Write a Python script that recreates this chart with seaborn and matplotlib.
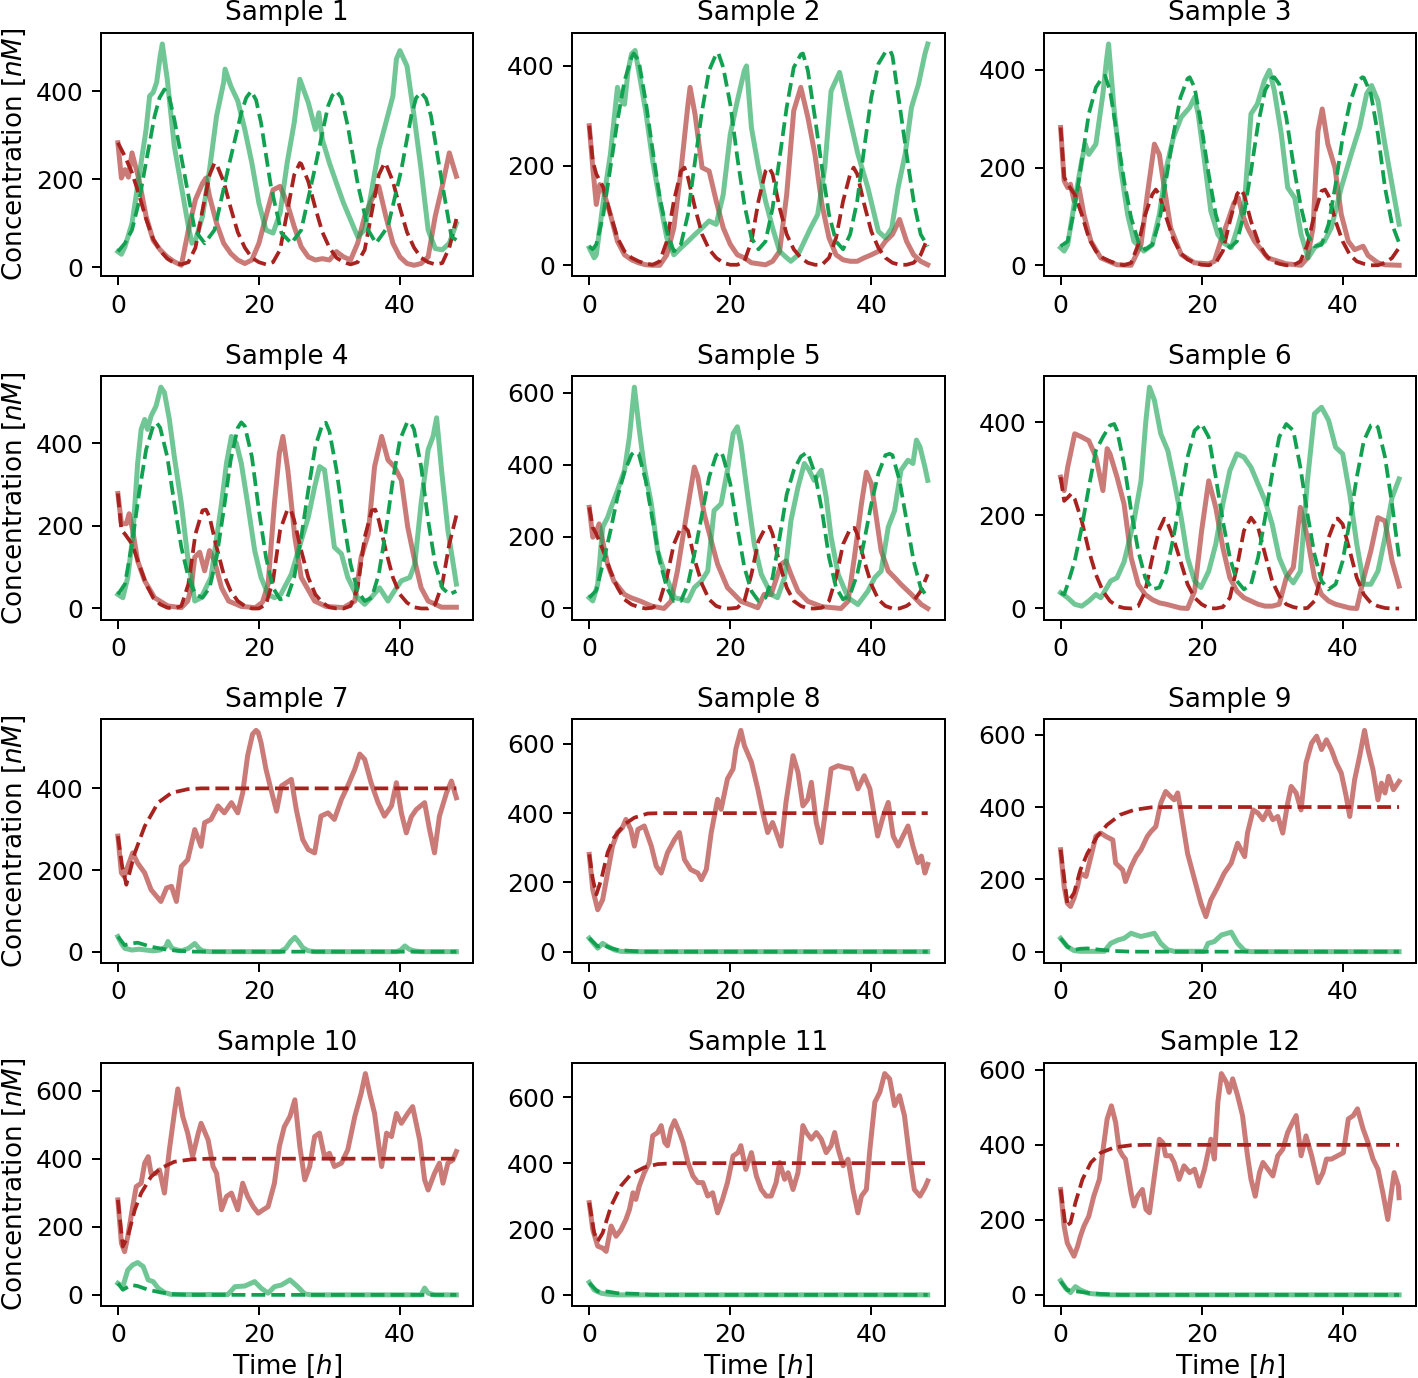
import matplotlib
matplotlib.use("Agg")
import matplotlib.pyplot as plt
import seaborn as sns
import pandas as pd

# ---------------- data: (time [h], concentration [nM]) ----------------
# Sample 1
s1_red = [(0,283),(0.5,203),(1,222),(1.5,205),(2,260),(3,199),(4,116),(5,62),(6,40),(7,24),(8,13),(9,5),(10,85),(11,154),(12,191),(12.5,203),(13,161),(14,100),(15,55),(16,32),(17,17),(18,9),(19,17),(20,55),(21,116),(22,176),(23,184),(24,146),(25,93),(26,47),(27,24),(28,17),(29,20),(30,17),(31,36),(32,24),(33,17),(34,55),(35,116),(36,154),(37,184),(38,116),(39,55),(40,24),(41,9),(42,5),(43,9),(44,24),(45,116),(46,184),(47,260),(48,207)]
s1_green = [(0,36),(0.5,30),(1,47),(2,100),(3,207),(4,313),(4.5,389),(5,397),(5.5,420),(6,480),(6.3,507),(7,427),(7.5,351),(8,275),(9,184),(10,93),(10.5,55),(11,62),(12,116),(13,222),(14,344),(15,420),(15.2,450),(16,412),(17,378),(18,313),(19,237),(20,146),(21,85),(22,78),(23,123),(24,237),(25,328),(25.8,427),(27,374),(28,313),(28.5,351),(29,290),(30,237),(31,191),(32,146),(33,108),(34,70),(35,85),(36,176),(37,268),(38,328),(39,389),(39.5,473),(40,492),(41,457),(42,344),(43,222),(44,85),(45,43),(46,40),(47,55),(48,100)]
d1_red = [(0,283),(1,252),(2,215),(3,165),(4,110),(5,65),(6,38),(7,20),(8,10),(9,7),(10,12),(11,45),(12,130),(13,210),(13.7,237),(14,234),(15,195),(16,135),(17,80),(18,45),(19,22),(20,12),(21,7),(22,12),(23,40),(24,125),(25,210),(25.8,237),(26,235),(27,195),(28,135),(29,80),(30,45),(31,22),(32,12),(33,7),(34,12),(35,40),(36,125),(37,210),(37.8,237),(38,235),(39,195),(40,135),(41,80),(42,45),(43,22),(44,12),(45,7),(46,10),(47,45),(48,110)]
d1_green = [(0,36),(1,55),(2,85),(3,150),(3.8,222),(5.2,343),(5.9,385),(6.6,404),(7.3,385),(8,336),(9.5,207),(10.9,85),(12.3,55),(13.7,85),(15.6,222),(17.5,351),(18.2,385),(18.9,400),(19.6,380),(20.3,328),(21.7,184),(23.2,78),(24.6,55),(26,85),(27.9,222),(29.8,366),(30.4,390),(31,400),(31.7,385),(32.6,321),(34,191),(35.5,85),(36.6,55),(38.3,93),(40.2,222),(41.6,344),(42.3,385),(43,397),(43.7,383),(44.4,344),(45.9,199),(47.3,70),(48,62)]

# Sample 2
s2_red = [(0,280),(0.5,196),(1,122),(1.5,162),(2,149),(3,102),(4,48),(5,21),(6,11),(7,5),(8,1),(9,0),(10,0),(11,21),(12,75),(13,189),(14,323),(14.3,357),(15,303),(16,196),(17,189),(18,129),(19,75),(20,42),(21,21),(22,15),(23,5),(24,3),(25,1),(26,8),(27,28),(28,142),(29,310),(30,357),(31,297),(32,223),(33,122),(34,55),(35,21),(36,11),(37,8),(38,8),(39,15),(40,21),(41,28),(42,48),(43,62),(44,92),(45,48),(46,21),(47,8),(48,1)]
s2_green = [(0,35),(0.7,15),(1,21),(2,129),(3,223),(4,357),(4.5,330),(5,323),(5.5,390),(6,424),(6.5,431),(7,391),(8,310),(9,209),(10,129),(11,55),(12,21),(13,35),(14,48),(15,62),(16,75),(17,89),(18,82),(19,142),(20,263),(21,330),(22,391),(22.3,400),(23,276),(24,196),(25,129),(26,75),(27,28),(28,15),(28.6,8),(29.6,21),(30.5,48),(31.4,75),(32.4,102),(33.4,196),(34.3,350),(35.5,387),(36.7,310),(38.1,223),(39.5,156),(41,68),(42,55),(42.9,75),(43.8,156),(44.8,223),(45.7,317),(46.7,364),(47.6,424),(48,444)]
d2_red = [(0,280),(0.5,209),(1,183),(2,156),(3,102),(4,55),(5,28),(6,15),(7,8),(8,3),(9,1),(10,8),(11,48),(12,129),(13,189),(13.5,196),(14,176),(15,115),(16,62),(17,32),(18,15),(19,5),(20,1),(21,1),(22,8),(23,48),(24,129),(25,189),(25.5,196),(26,183),(27,115),(28,62),(29,32),(30,15),(31,5),(32,1),(33,1),(34,15),(35,55),(36,129),(37,183),(37.5,196),(38,183),(39,122),(40,68),(41,35),(42,15),(43,5),(44,1),(45,1),(46,5),(47,21),(48,55)]
d2_green = [(0,38),(0.5,32),(1,42),(2,102),(3,196),(4,290),(5,370),(6,417),(6.3,425),(7,411),(8,330),(9,230),(10,136),(11,68),(12,28),(13,42),(14,102),(15,209),(16,310),(17,391),(18,424),(18.3,426),(19,397),(20,323),(21,216),(22,122),(23,55),(24,32),(25,48),(26,115),(27,216),(28,317),(29,397),(30,423),(30.3,425),(31,391),(32,297),(33,196),(34,102),(35,48),(36,32),(37,62),(38,129),(39,236),(40,337),(41,404),(42,428),(42.7,430),(43,420),(44,323),(45,223),(46,129),(47,62),(48,38)]

# Sample 3
s3_red = [(0,282),(0.5,173),(1,159),(1.4,166),(1.9,132),(2.6,159),(3.3,104),(4.3,49),(5.7,15),(8,1),(10,0),(11.4,42),(12.3,145),(13.3,248),(14,227),(14.7,159),(15.6,77),(17.1,22),(19,5),(21,3),(21.8,8),(22.7,49),(23.7,90),(24.6,128),(25.2,138),(25.8,104),(26.5,77),(27.5,49),(29.4,15),(32,3),(34.1,0),(35,15),(35.8,77),(36.5,275),(37.1,320),(37.9,248),(38.9,200),(39.8,104),(40.8,49),(41.7,32),(42.9,39),(43.6,20),(45,5),(46,1),(48,0)]
s3_green = [(0,36),(0.5,29),(1,42),(2,132),(3,214),(3.5,248),(4,227),(5,248),(6,351),(6.5,419),(6.8,453),(7.6,316),(8.5,200),(9.5,104),(10.4,49),(11.8,29),(13,42),(14,104),(15,200),(16,262),(17.1,303),(18.3,323),(19,344),(19.5,310),(20.4,214),(21.3,111),(22.3,63),(23.2,45),(24.2,36),(25.1,77),(26.1,132),(27,310),(27.9,330),(28.9,378),(29.6,399),(30.3,358),(31.3,268),(32.2,159),(33.2,138),(34.1,63),(35.1,15),(36,36),(37.4,49),(38.4,77),(39.8,159),(41.2,227),(42.4,282),(43.4,351),(44.1,368),(45,337),(45.9,255),(46.9,173),(48,84)]
d3_red = [(0,282),(0.5,180),(1,166),(2,145),(3,104),(4,56),(5,29),(6,15),(7,8),(8,3),(9,0),(10,5),(11,42),(12,104),(13,145),(13.5,155),(14,145),(15,97),(16,53),(17,25),(18,12),(19,5),(20,1),(21,0),(22,5),(23,29),(24,90),(25,145),(25.5,155),(26,145),(27,90),(28,49),(29,22),(30,8),(31,3),(32,0),(33,0),(34,8),(35,42),(36,104),(37,152),(37.5,155),(38,142),(39,90),(40,49),(41,22),(42,8),(43,3),(44,0),(45,0),(46,5),(47,15),(48,36)]
d3_green = [(0,39),(1,49),(2,118),(3,214),(4,310),(5,364),(6,386),(6.3,388),(7,358),(8,268),(9,173),(10,97),(11,49),(12,32),(13,42),(14,90),(15,179),(16,268),(17,344),(18,382),(18.3,385),(19,364),(20,282),(21,186),(22,104),(23,56),(24,36),(25,49),(26,104),(27,193),(28,289),(29,358),(30,384),(30.3,385),(31,371),(32,303),(33,207),(34,125),(35,63),(36,39),(37,42),(38,84),(39,166),(40,262),(41,331),(42,375),(42.8,385),(43,384),(44,351),(45,268),(46,159),(47,84),(48,46)]

# Sample 4
s4_red = [(0,278),(0.5,205),(1.2,205),(1.6,229),(2.1,189),(2.8,115),(3.8,67),(5.2,26),(7.1,6),(9,2),(9.9,18),(10.4,50),(10.9,124),(11.6,136),(12.3,91),(13,140),(13.7,115),(14.7,50),(15.7,18),(17.5,5),(19.5,2),(20.5,15),(21.3,59),(22.2,254),(22.9,376),(23.4,416),(24.1,335),(25.1,172),(26,75),(27.9,18),(29.5,5),(32,2),(33.6,18),(34.5,124),(35.5,180),(36.4,343),(37.4,416),(38.3,359),(39.2,343),(40.2,310),(41.1,197),(42.1,115),(43,50),(44,18),(45.9,3),(48,3)]
s4_green = [(0,34),(0.7,26),(1.4,75),(2.1,172),(2.8,351),(3.3,433),(3.8,457),(4.2,433),(4.7,465),(5.4,489),(6.1,535),(6.6,522),(7.3,457),(8,367),(9,254),(9.9,124),(10.9,18),(11.8,26),(13.2,75),(14.7,254),(15.4,351),(16.1,416),(16.8,400),(17.5,351),(18.4,254),(19.4,140),(20.3,75),(21.3,34),(22.2,26),(23.1,34),(24.6,83),(26,164),(27,221),(27.9,294),(28.6,343),(29.3,335),(29.8,270),(30.7,148),(31.7,132),(32.6,75),(34,26),(35,10),(35.9,26),(37.1,50),(38.3,18),(39.2,42),(40.2,67),(41.4,75),(42.1,107),(43,254),(44,384),(44.7,416),(45.2,461),(45.9,335),(46.8,189),(48,59)]
d4_red = [(0,278),(0.5,189),(1,180),(2,156),(3,107),(4,59),(5,26),(6,10),(7,2),(8,0),(9,6),(10,59),(11,180),(12,237),(12.5,239),(13,221),(14,148),(15,83),(16,42),(17,18),(18,6),(19,0),(20,0),(21,10),(22,67),(23,189),(24,237),(24.5,239),(25,213),(26,140),(27,75),(28,34),(29,14),(30,3),(31,0),(32,0),(33,6),(34,50),(35,172),(36,237),(36.5,239),(37,213),(38,140),(39,75),(40,34),(41,14),(42,3),(43,0),(44,0),(45,10),(46,59),(47,156),(48,225)]
d4_green = [(0,34),(1,59),(2,156),(3,278),(4,384),(5,441),(5.5,449),(6,437),(7,367),(8,254),(9,148),(10,75),(11,34),(12,26),(13,50),(14,124),(15,237),(16,359),(17,437),(17.5,450),(18,441),(19,367),(20,237),(21,124),(22,50),(23,22),(24,26),(25,75),(26,172),(27,286),(28,392),(29,445),(29.5,449),(30,428),(31,335),(32,213),(33,107),(34,42),(35,18),(36,26),(37,83),(38,189),(39,311),(40,408),(41,449),(41.5,450),(42,433),(43,343),(44,213),(45,107),(46,50),(47,34),(48,42)]

# Sample 5
s5_red = [(0,281),(0.5,198),(0.9,207),(1.4,235),(1.9,188),(2.6,123),(3.5,76),(5,39),(5.9,30),(7.3,20),(8.8,7),(10.6,0),(11.6,20),(12.5,104),(13.5,226),(14.2,309),(14.9,393),(15.4,365),(16.3,263),(17.3,188),(18.2,123),(19.6,58),(21.5,20),(23.9,2),(24.8,39),(25.8,39),(27.2,123),(27.9,132),(28.6,95),(29.6,48),(31,20),(33,5),(35.7,0),(36.7,20),(37.6,142),(38.6,291),(39.3,379),(40,347),(40.7,254),(41.4,160),(42.4,104),(43.3,86),(44.2,67),(45.7,39),(47.1,11),(48,0)]
s5_green = [(0,30),(0.5,21),(1.2,67),(1.9,226),(2.6,253),(3.1,281),(4,328),(5,384),(5.7,477),(6.4,615),(6.6,580),(7.1,496),(7.8,393),(8.8,291),(9.7,160),(10.6,104),(12.1,30),(14,21),(14.9,58),(15.9,76),(16.8,104),(17.7,272),(18.7,291),(19.6,384),(20.4,486),(21,505),(21.5,459),(22.5,309),(23.4,179),(24.4,95),(25.8,39),(26.7,30),(27.7,86),(28.6,244),(29.6,337),(30.5,403),(31.2,384),(31.9,356),(32.9,384),(33.6,309),(34.3,198),(35.3,95),(36.7,30),(38.1,11),(39.5,48),(40.5,86),(41.4,104),(42.4,226),(43.3,272),(44.2,384),(45.2,412),(45.9,403),(46.4,468),(46.9,449),(47.6,393),(48,356)]
d5_red = [(0,281),(0.5,225),(1,207),(2,160),(3,104),(4,58),(5,25),(6,11),(7,4),(8,0),(9,2),(10,21),(11,86),(12,179),(13,225),(13.5,227),(14,216),(15,132),(16,67),(17,25),(18,7),(19,0),(20,0),(21,2),(22,21),(23,95),(24,188),(25,225),(25.6,227),(26,207),(27,123),(28,58),(29,21),(30,7),(31,0),(32,0),(33,2),(34,21),(35,86),(36,179),(37,221),(37.6,224),(38,207),(39,132),(40,67),(41,25),(42,7),(43,0),(44,0),(45,7),(46,21),(47,48),(48,95)]
d5_green = [(0,30),(1,50),(2,130),(3,215),(4,309),(5,380),(6,428),(6.4,435),(7,431),(8,356),(9,244),(10,132),(11,58),(12,21),(13,21),(14,67),(15,160),(16,263),(17,365),(18,426),(18.7,435),(19,421),(20,347),(21,226),(22,114),(23,48),(24,21),(25,30),(26,86),(27,198),(28,317),(29,384),(30,422),(30.8,433),(31,431),(32,375),(33,272),(34,142),(35,58),(36,25),(37,39),(38,95),(39,188),(40,291),(41,375),(42,426),(42.6,430),(43,426),(44,356),(45,244),(46,132),(47,58),(48,30)]

# Sample 6
s6_red = [(0,282),(0.5,253),(1,303),(2,375),(3,368),(4,360),(5,325),(6,253),(6.6,343),(7,332),(8,282),(9,224),(10,109),(11,52),(12,30),(13,19),(14,12),(15,9),(16,5),(17,1),(18,0),(19,37),(20,167),(21,274),(22,217),(23,131),(24,66),(25,37),(26,23),(27,16),(28,9),(29,5),(30,5),(31,9),(32,66),(33,88),(34,217),(35,152),(36,66),(37,30),(38,16),(39,9),(40,5),(41,1),(42,0),(43,66),(44,124),(45,195),(46,188),(47,102),(48,48)]
s6_green = [(0,34),(1,23),(2,9),(3,5),(4,16),(5,30),(5.7,23),(7.1,59),(8,66),(9,100),(10.4,188),(11.4,274),(12.1,404),(12.6,475),(13.3,447),(14.2,375),(15.2,339),(16.1,274),(17.1,195),(18,109),(19,59),(19.9,45),(21,80),(22,138),(23,224),(24,296),(25,332),(26,325),(27,303),(28,267),(29,231),(30,181),(31,109),(32,73),(33,55),(34,80),(35,274),(36,418),(37,432),(38,404),(39,346),(40,332),(41,246),(42,138),(43,52),(44,52),(45,80),(46,152),(47,238),(48,278)]
d6_red = [(0,282),(0.5,231),(1,238),(1.5,246),(2,235),(3,188),(4,124),(5,73),(6,37),(7,16),(8,5),(9,1),(10,0),(11,5),(12,37),(13,109),(14,170),(14.7,193),(15,190),(16,150),(17,102),(18,52),(19,23),(20,9),(21,1),(22,0),(23,3),(24,23),(25,88),(26,167),(27,195),(28,174),(29,116),(30,59),(31,27),(32,9),(33,3),(34,0),(35,1),(36,16),(37,73),(38,152),(39,192),(39.3,193),(40,181),(41,124),(42,66),(43,30),(44,12),(45,5),(46,1),(47,0),(48,0)]
d6_green = [(0,34),(0.5,30),(1,52),(2,102),(3,174),(4,260),(5,339),(6,368),(7,393),(7.6,396),(8,382),(9,310),(10,210),(11,124),(12,66),(13,41),(14,45),(15,80),(16,152),(17,238),(18,325),(19,382),(20,396),(21,368),(22,282),(23,188),(24,109),(25,59),(26,41),(27,52),(28,109),(29,195),(30,289),(31,368),(32,396),(33,382),(34,303),(35,203),(36,116),(37,59),(38,41),(39,52),(40,102),(41,188),(42,282),(43,360),(44,393),(44.5,396),(45,389),(46,325),(47,224),(48,109)]

# Sample 7
s7_red = [(0,283),(0.5,193),(0.9,184),(1.4,209),(2.1,242),(2.8,217),(3.8,193),(4.7,152),(5.7,131),(6.1,123),(6.9,156),(7.6,160),(8.3,123),(9.0,209),(9.9,225),(10.9,299),(11.8,258),(12.3,316),(13.2,324),(14.2,357),(15.1,340),(16.1,365),(17.0,340),(17.7,389),(18.4,480),(19.1,533),(19.6,542),(19.9,537),(20.3,512),(21.0,447),(21.7,398),(22.5,344),(23.2,406),(23.9,414),(24.6,422),(25.3,348),(26.2,275),(27.0,250),(27.9,242),(28.8,332),(29.8,340),(30.7,324),(31.7,373),(32.6,406),(33.6,447),(34.3,484),(35.0,471),(35.9,414),(36.9,365),(37.8,332),(38.8,357),(39.5,414),(40.2,340),(40.9,291),(41.6,330),(42.3,348),(43.5,365),(44.2,299),(44.9,242),(45.6,332),(46.6,389),(47.3,418),(48,377)]
s7_green = [(0,37),(0.5,20),(1,8),(2,4),(3,6),(4,4),(5,2),(6,4),(6.8,12),(7.1,25),(7.6,10),(8,6),(9,2),(10,8),(10.9,20),(11.5,8),(12,2),(13,0),(23,0),(23.8,8),(24.5,25),(25.1,35),(25.6,25),(26.2,10),(27,2),(28,0),(39.5,0),(40.1,4),(40.7,14),(41.3,6),(42,2),(43,0),(48,0)]
d7_red = [(0,283),(0.6,210),(1.2,164),(2.4,242),(3.8,307),(5.7,365),(7.6,389),(9.9,398),(11.8,400),(48,400)]
d7_green = [(0,37),(0.95,16),(1.9,20),(2.8,22),(4.7,12),(6.6,6),(8.5,2),(10.9,0),(48,0)]

# Sample 8
s8_red = [(0,281),(0.5,179),(1.2,121),(1.9,150),(2.6,227),(3.3,305),(4.0,344),(4.7,358),(5.2,382),(5.9,353),(6.4,305),(6.9,353),(7.8,363),(8.8,305),(9.5,247),(10.2,227),(11.1,286),(12.1,324),(12.8,344),(13.5,266),(14.4,237),(15.4,227),(15.9,208),(16.6,237),(17.3,344),(18.2,440),(18.7,411),(19.6,499),(20.4,528),(20.8,586),(21.5,639),(22.0,595),(23.0,547),(23.9,470),(24.6,402),(25.3,344),(26.0,373),(26.7,334),(27.2,305),(27.9,431),(28.9,566),(29.6,518),(30.3,421),(31.0,440),(31.5,489),(32.2,373),(32.9,315),(33.6,421),(34.3,528),(35.3,537),(36.2,532),(37.2,528),(38.1,470),(39.0,508),(39.8,470),(40.5,382),(40.9,334),(41.7,392),(42.4,431),(43.1,334),(43.8,305),(44.5,334),(45.2,363),(45.9,305),(46.6,257),(47.1,276),(47.6,227),(48,252)]
s8_green = [(0,39),(1.2,10),(1.9,24),(2.6,15),(3.6,5),(4.5,1),(6,0),(48,0)]
d8_red = [(0,281),(0.5,210),(1,165),(1.7,208),(2.6,286),(3.5,329),(5,368),(6.4,387),(8.3,399),(10,400),(48,400)]
d8_green = [(0,39),(1.2,15),(2.1,19),(3.1,10),(4,5),(6,2),(8,0),(48,0)]

# Sample 9
s9_red = [(0,282),(0.5,180),(0.95,134),(1.4,125),(1.9,148),(2.4,180),(2.8,217),(3.6,208),(4.3,263),(5.0,319),(5.7,328),(6.4,319),(7.4,309),(7.8,245),(8.8,226),(9.2,194),(10.0,235),(10.7,263),(11.4,282),(12.3,319),(12.8,332),(13.5,346),(14.2,411),(14.9,443),(15.6,429),(16.1,420),(16.6,439),(17.1,383),(18.0,272),(19.0,199),(19.9,134),(20.6,97),(21.3,143),(22.3,180),(23.2,217),(24.2,245),(25.1,300),(26.1,263),(26.5,328),(27.3,392),(28.0,383),(28.7,365),(29.4,392),(30.1,365),(30.8,374),(31.5,328),(32.2,411),(32.7,457),(33.4,439),(34.1,392),(34.8,522),(35.6,577),(36.3,596),(37.0,559),(37.7,586),(38.4,559),(39.1,522),(39.8,494),(40.5,429),(41.0,374),(41.7,476),(42.4,540),(43.1,612),(43.6,559),(44.3,503),(45.0,420),(45.5,466),(46.0,439),(46.5,485),(47.2,448),(48,471)]
s9_green = [(0,37),(0.95,14),(1.9,3),(2.8,1),(6.2,1),(7.1,23),(8.1,32),(9.0,37),(10.0,51),(10.7,46),(11.4,42),(12.3,46),(13.3,51),(14.2,23),(15.2,5),(16.1,1),(20.4,1),(20.9,23),(21.8,28),(22.8,46),(24.2,54),(25.1,23),(26.1,3),(27,0),(48,0)]
d9_red = [(0,282),(0.95,134),(1.9,162),(2.8,226),(3.8,272),(5.2,319),(6.6,351),(8.5,379),(10.4,392),(12.8,399),(15,400),(48,400)]
d9_green = [(0,37),(0.95,14),(1.9,5),(2.8,8),(3.8,9),(5.7,5),(7.6,2),(10,0),(48,0)]

# Sample 10
s10_red = [(0,279),(0.5,152),(0.95,127),(1.4,171),(2.1,259),(2.6,318),(3.3,328),(3.8,387),(4.3,406),(4.7,357),(5.4,357),(5.9,367),(6.6,299),(7.3,426),(8.0,533),(8.5,605),(9.2,524),(9.9,475),(10.6,406),(11.4,475),(11.8,504),(12.8,455),(13.5,377),(14.0,357),(14.7,250),(15.4,289),(16.1,299),(17.0,250),(17.7,328),(18.4,289),(19.2,259),(19.9,240),(20.6,250),(21.3,259),(22.2,328),(22.9,436),(23.6,494),(24.4,524),(25.1,573),(25.8,436),(26.5,338),(27.2,377),(27.9,465),(28.6,475),(29.3,406),(30.0,416),(30.7,377),(31.7,387),(32.6,426),(33.6,524),(34.5,592),(35.1,650),(35.7,592),(36.4,533),(37.4,377),(38.1,475),(38.8,465),(39.5,533),(40.2,504),(41.1,533),(41.8,553),(42.8,455),(43.5,338),(44.0,308),(44.9,357),(45.6,387),(46.1,328),(46.8,387),(47.5,396),(48,421)]
s10_green = [(0,34),(0.7,24),(1.4,73),(2.1,88),(2.8,95),(3.6,83),(4.3,44),(5.0,39),(5.7,20),(6.6,7),(7.6,1),(15.6,1),(16.6,24),(18.0,26),(19.4,39),(20.3,20),(21.3,5),(22.2,24),(23.2,29),(24.4,44),(25.5,24),(26.5,3),(27.4,0),(43.0,0),(43.5,20),(44.0,5),(44.9,0),(48,0)]
d10_red = [(0,279),(0.7,142),(1.4,171),(2.4,250),(3.3,299),(4.7,347),(6.1,372),(8,391),(10.4,398),(13,400),(48,400)]
d10_green = [(0,34),(0.7,15),(1.9,29),(2.8,26),(4.3,15),(6.1,7),(8,2),(10,0),(48,0)]

# Sample 11
s11_red = [(0,280),(0.5,198),(1.2,148),(1.9,142),(2.4,132),(3.1,209),(3.8,178),(4.5,198),(5.2,229),(5.7,259),(6.2,310),(6.6,290),(7.1,331),(7.8,371),(8.5,402),(9.0,483),(9.7,493),(10.2,514),(10.7,463),(11.1,453),(11.6,504),(12.1,529),(12.8,493),(13.3,463),(14.0,402),(14.7,361),(15.4,341),(16.1,341),(16.8,300),(17.5,310),(18.2,249),(18.9,290),(19.6,341),(20.4,422),(21.1,432),(21.5,453),(22.2,381),(23.0,432),(23.7,361),(24.4,320),(25.1,300),(25.8,300),(26.5,341),(27.0,402),(27.7,351),(28.2,371),(28.9,320),(29.6,371),(30.3,514),(30.8,493),(31.5,473),(32.2,493),(32.9,473),(33.6,432),(34.3,453),(34.8,493),(35.3,442),(36.0,392),(36.7,412),(37.4,320),(38.1,249),(38.6,300),(39.3,320),(39.8,442),(40.5,585),(41.2,615),(41.9,672),(42.6,656),(43.3,575),(44.0,605),(44.7,544),(45.4,422),(46.1,320),(46.9,300),(47.6,326),(48,346)]
s11_green = [(0,38),(0.7,15),(1.7,5),(2.6,2),(4,0),(48,0)]
d11_red = [(0,280),(0.7,188),(1.2,163),(1.9,188),(3.1,270),(4.5,331),(5.9,366),(7.8,387),(9.7,397),(12.1,400),(48,400)]
d11_green = [(0,36),(1.2,10),(2.6,10),(4,5),(6.9,3),(8.8,0),(48,0)]

# Sample 12
s12_red = [(0,281),(0.5,183),(0.95,138),(1.4,121),(1.9,103),(2.4,129),(2.8,156),(3.3,183),(4.0,210),(4.7,263),(5.5,308),(5.9,371),(6.6,469),(7.2,504),(7.8,460),(8.3,388),(8.8,371),(9.2,362),(10.0,272),(10.4,237),(10.9,263),(11.6,281),(12.1,228),(12.6,219),(13.3,317),(14.0,415),(14.5,406),(14.9,371),(15.6,371),(16.1,353),(16.8,308),(17.5,344),(18.3,326),(19.0,335),(19.7,290),(20.4,335),(20.9,379),(21.3,415),(21.8,362),(22.3,513),(22.8,590),(23.5,567),(23.9,540),(24.4,576),(25.1,531),(25.8,478),(26.5,371),(27.0,308),(27.6,263),(28.2,326),(28.7,353),(29.4,335),(30.1,317),(30.8,371),(31.5,388),(32.2,433),(32.9,460),(33.4,478),(34.1,371),(34.8,424),(35.6,371),(36.5,299),(37.2,326),(37.7,362),(38.4,362),(39.3,371),(40.1,379),(40.8,469),(41.5,478),(42.1,496),(42.9,442),(43.6,406),(44.3,362),(45.0,335),(45.7,272),(46.4,201),(46.7,246),(47.3,326),(47.9,290),(48,259)]
s12_green = [(0,38),(0.7,18),(1.4,6),(2.1,22),(2.8,13),(4,4),(5.7,1),(7,0),(48,0)]
d12_red = [(0,281),(0.7,183),(1.4,192),(2.1,246),(3.1,308),(4.3,353),(5.7,379),(7.6,393),(10,399),(12,400),(48,400)]
d12_green = [(0,36),(0.95,13),(2.4,9),(4.3,4),(6.2,2),(8.5,0),(48,0)]

titles = [f"Sample {i}" for i in range(1, 13)]
x_ticks = [0, 20, 40]

samples = [
    (s1_red, s1_green, d1_red, d1_green), (s2_red, s2_green, d2_red, d2_green),
    (s3_red, s3_green, d3_red, d3_green), (s4_red, s4_green, d4_red, d4_green),
    (s5_red, s5_green, d5_red, d5_green), (s6_red, s6_green, d6_red, d6_green),
    (s7_red, s7_green, d7_red, d7_green), (s8_red, s8_green, d8_red, d8_green),
    (s9_red, s9_green, d9_red, d9_green), (s10_red, s10_green, d10_red, d10_green),
    (s11_red, s11_green, d11_red, d11_green), (s12_red, s12_green, d12_red, d12_green),
]

RED = "#a8231f"
GREEN = "#12a150"

plt.rcParams["font.family"] = ["DejaVu Sans"]
plt.rcParams["axes.titlesize"] = 10.5
plt.rcParams["axes.labelsize"] = 10.5
plt.rcParams["xtick.labelsize"] = 10
plt.rcParams["ytick.labelsize"] = 10

DPI = 180
fig, axes = plt.subplots(4, 3, figsize=(1418 / DPI, 1378 / DPI), dpi=DPI)
fig.subplots_adjust(left=0.0712, right=0.9986, top=0.9761, bottom=0.0523,
                    wspace=0.266, hspace=0.41)

def to_df(pts):
    return pd.DataFrame(pts, columns=["t", "c"])

for i, ax in enumerate(axes.flat):
    sr, sg, dr, dg = samples[i]
    sns.lineplot(data=to_df(sr), x="t", y="c", ax=ax, color=RED, alpha=0.6,
                 linewidth=2.0, estimator=None, sort=False)
    sns.lineplot(data=to_df(sg), x="t", y="c", ax=ax, color=GREEN, alpha=0.6,
                 linewidth=2.0, estimator=None, sort=False)
    sns.lineplot(data=to_df(dr), x="t", y="c", ax=ax, color=RED,
                 linewidth=1.5, linestyle="--", estimator=None, sort=False)
    sns.lineplot(data=to_df(dg), x="t", y="c", ax=ax, color=GREEN,
                 linewidth=1.5, linestyle="--", estimator=None, sort=False)
    ax.set_title(titles[i], pad=5)
    ax.set_xticks(x_ticks)
    ax.set_xlabel("Time [$h$]" if i >= 9 else "", labelpad=2)
    ax.set_ylabel("Concentration [$nM$]" if i % 3 == 0 else "", labelpad=3)

fig.savefig("out.png", dpi=DPI)
